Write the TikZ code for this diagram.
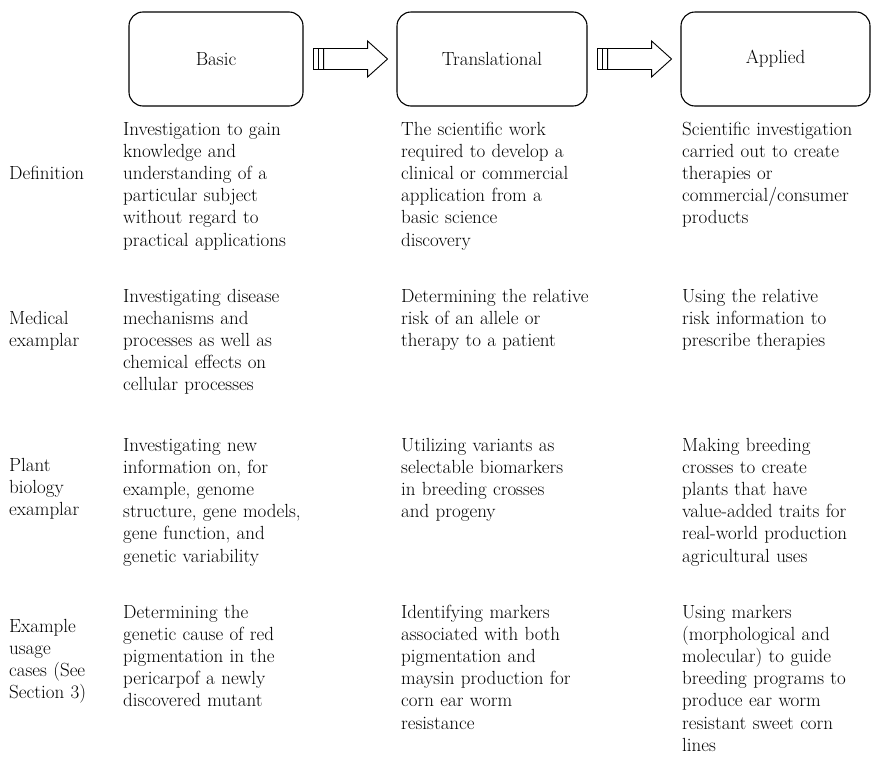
\documentclass[tikz,border=0pt]{standalone}
\usepackage{tikz}
\usetikzlibrary{calc}

\begin{document}
\begin{tikzpicture}[x=1pt,y=-1pt]
        \tikzset{stage/.style={draw, rounded corners=14pt, line width=1.1pt, minimum height=94pt, inner sep=0pt, font=\fontsize{19}{22.2}\selectfont},
                 cell/.style={anchor=base west, inner sep=0pt, align=left, text width=200pt, font=\fontsize{19}{22.2}\selectfont},
                 blk/.style={draw, line width=0.9pt}}
        \useasboundingbox (0,0) rectangle (873,774);
        % the three stages
        \node [stage, minimum width=174pt] (basic)   at (216,59)   {Basic};
        \node [stage, minimum width=190pt] (trans)   at (492,59)   {Translational};
        \node [stage, minimum width=189pt] (applied) at (775.5,59) {Applied};
        % block arrows between stages
        \foreach \from in {basic, trans}{
            \path (\from.east) ++(10,0) coordinate (a);
            \draw [blk] (a) ++(0,-10.5) rectangle ++(5,21);
            \draw [blk] (a) ++(5,-10.5) rectangle ++(5,21);
            \draw [blk] (a) ++(10,-10.5) -- ++(44,0) -- ++(0,-7.5) -- ++(20,18) -- ++(-20,18) -- ++(0,-7.5) -- ++(-44,0) -- cycle;
        }
        % row labels
        \node [cell] (lbl1) at (9,179) {Definition};
        \node [cell] (lbl2) at (9,324) {Medical\\examplar};
        \node [cell] (lbl3) at (9,471) {Plant\\biology\\examplar};
        \node [cell] (lbl4) at (9,632) {Example\\usage\\cases (See\\Section 3)};
        % definition
        \node [cell] (def1) at (123,135) {Investigation to gain\\knowledge and\\understanding of a\\particular subject\\without regard to\\practical applications};
        \node [cell] (def2) at (401,135) {The scientific work\\required to develop a\\clinical or commercial\\application from a\\basic science\\discovery};
        \node [cell] (def3) at (682,135) {Scientific investigation\\carried out to create\\therapies or\\commercial/consumer\\products};
        % medical examplar
        \node [cell] (med1) at (123,302) {Investigating disease\\mechanisms and\\processes as well as\\chemical effects on\\cellular processes};
        \node [cell] (med2) at (401,302) {Determining the relative\\risk of an allele or\\therapy to a patient};
        \node [cell] (med3) at (682,302) {Using the relative\\risk information to\\prescribe therapies};
        % plant biology examplar
        \node [cell] (pla1) at (123,451) {Investigating new\\information on, for\\example, genome\\structure, gene models,\\gene function, and\\genetic variability};
        \node [cell] (pla2) at (401,451) {Utilizing variants as\\selectable biomarkers\\in breeding crosses\\and progeny};
        \node [cell] (pla3) at (682,451) {Making breeding\\crosses to create\\plants that have\\value-added traits for\\real-world production\\agricultural uses};
        % example usage cases
        \node [cell] (use1) at (123,618) {Determining the\\genetic cause of red\\pigmentation in the\\pericarpof a newly\\discovered mutant};
        \node [cell] (use2) at (401,618) {Identifying markers\\associated with both\\pigmentation and\\maysin production for\\corn ear worm\\resistance};
        \node [cell] (use3) at (682,618) {Using markers\\(morphological and\\molecular) to guide\\breeding programs to\\produce ear worm\\resistant sweet corn\\lines};
\end{tikzpicture}
\end{document}
